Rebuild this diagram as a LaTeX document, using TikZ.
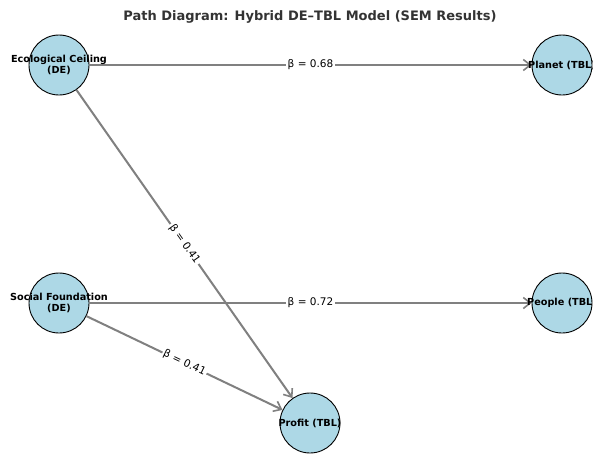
\documentclass[tikz,border=0pt]{standalone}
\usepackage{fontspec}
\setmainfont{DejaVu Sans}
\usetikzlibrary{arrows.meta}
\definecolor{nodefill}{HTML}{ADD8E6}
\definecolor{edgegray}{HTML}{808080}
\definecolor{titlegray}{HTML}{333333}
\tikzset{
  var/.style={circle, draw=black, line width=0.9pt, fill=nodefill, minimum size=60pt, inner sep=0pt},
  vartext/.style={font=\fontsize{9.7}{10.5}\selectfont\bfseries, align=center, text=black},
  path/.style={draw=edgegray, line width=2pt, -{Straight Barb[length=7pt,width=11pt,line width=1.6pt]}},
  coef/.style={font=\fontsize{10.5}{12}\selectfont, fill=white, inner sep=1.5pt, text=black},
}
\begin{document}
\begin{tikzpicture}[x=1pt,y=-1pt]
\useasboundingbox (0,0) rectangle (593,453);
\clip (0,0) rectangle (593,453);
\fill[white] (0,0) rectangle (593,453);
\node[font=\fontsize{13}{15}\selectfont\bfseries, text=titlegray] (title) at (310,17) {Path Diagram: Hybrid DE–TBL Model (SEM Results)};
% nodes
\coordinate (ecoC) at (59,65);
\coordinate (socC) at (59,303);
\coordinate (plaC) at (562,65);
\coordinate (peoC) at (562,303);
\coordinate (proC) at (310,423);
\node[var] (eco) at (ecoC) {};
\node[var] (soc) at (socC) {};
\node[var] (pla) at (plaC) {};
\node[var] (peo) at (peoC) {};
\node[var] (pro) at (proC) {};
% edges
\draw[path] (eco) -- node[coef] {β = 0.68} (pla);
\draw[path] (soc) -- node[coef] {β = 0.72} (peo);
\draw[path] (eco) -- node[coef, sloped] {β = 0.41} (pro);
\draw[path] (soc) -- node[coef, sloped] {β = 0.41} (pro);
% node texts
\node[vartext] (ecot) at (ecoC) {Ecological Ceiling\\(DE)};
\node[vartext] (soct) at (socC) {Social Foundation\\(DE)};
\node[vartext] (plat) at (plaC) {Planet (TBL)};
\node[vartext] (peot) at (peoC) {People (TBL)};
\node[vartext] (prot) at (proC) {Profit (TBL)};
\end{tikzpicture}
\end{document}
